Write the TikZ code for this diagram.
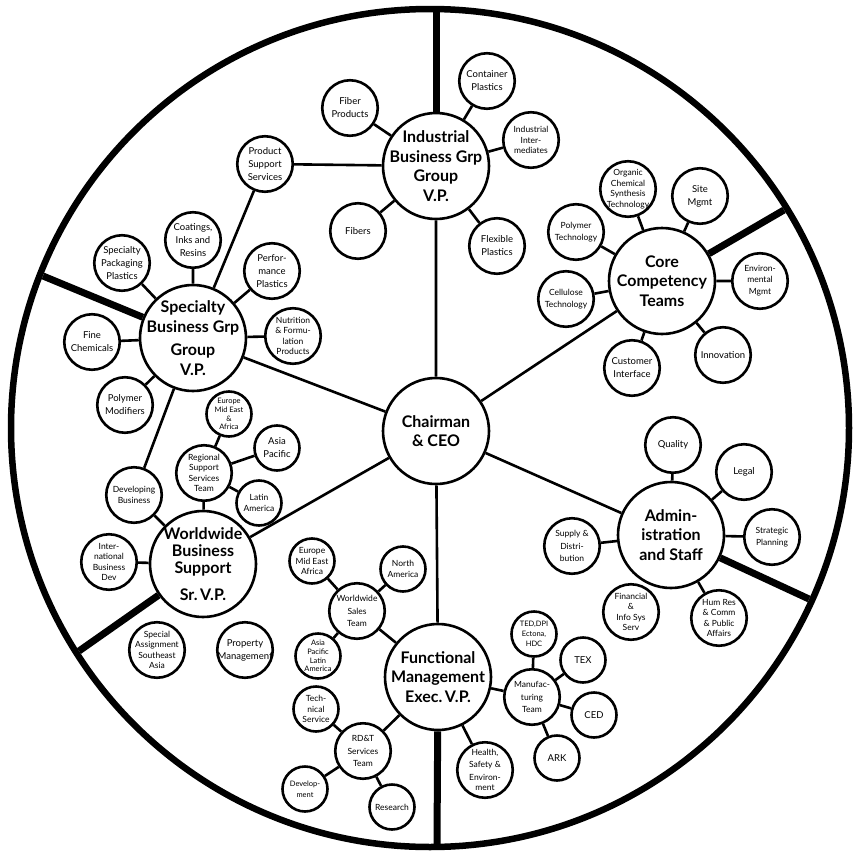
\documentclass[tikz,border=0pt]{standalone}
\usepackage{fontspec}
\setmainfont{Lato}

\begin{document}
\begin{tikzpicture}[x=1pt,y=-1pt,
  bub/.style={circle, draw, line width=2.6pt, minimum size=55.5pt, inner sep=-6pt, align=center, font=\fontsize{9.5}{13}\selectfont},
  sbub/.style={bub, minimum size=45pt},
  fine/.style={font=\fontsize{8.5}{10.5}\selectfont},
  tiny/.style={font=\fontsize{7.5}{8.8}\selectfont},
  head/.style={bub, minimum size=106pt, font=\fontsize{16}{19.5}\selectfont\bfseries},
  link/.style={line width=2.6pt},
  wall/.style={line width=7pt},
  rim/.style={line width=6.5pt}]
  \useasboundingbox (0,0) rectangle (855,854);

  % heads
  \node [head] (chair) at (436,431) {Chairman\\\& CEO};
  \node [head] (indus) at (436,166) {Industrial\\Business Grp\\Group\\V.P.};
  \node [head] (spec)  at (193,338) {Specialty\\Business Grp\\[4pt]Group\\V.P.};
  \node [head, font=\fontsize{16}{17}\selectfont\bfseries] (wwbs) at (203,564) {Worldwide\\Business\\Support\\[10pt]Sr.\,V.P.};
  \node [head] (func)  at (438,677) {Functional\\Management\\Exec.\,V.P.};
  \node [head] (core)  at (662,281) {Core\\Competency\\Teams};
  \node [head] (admin) at (671,535) {Admin-\\istration\\and Staff};

  % industrial
  \node [bub] (fiberprod)   at (350,108) {Fiber\\Products};
  \node [bub] (container)   at (487,81)  {Container\\Plastics};
  \node [bub, fine] (interm) at (531,140) {Industrial\\Inter-\\mediates};
  \node [bub] (fibers)      at (358,231) {Fibers};
  \node [bub] (flexible)    at (497,246) {Flexible\\Plastics};
  \node [bub] (prodsupport) at (265,164) {Product\\Support\\Services};

  % specialty
  \node [bub] (coatings)  at (193,240) {Coatings,\\Inks and\\Resins};
  \node [bub] (specpack)  at (122,263) {Specialty\\Packaging\\Plastics};
  \node [bub] (perform)   at (272,271) {Perfor-\\mance\\Plastics};
  \node [bub] (finechem)  at (92,342)  {Fine\\Chemicals};
  \node [bub, fine] (nutrition) at (293,336) {Nutrition\\\& Formu-\\lation\\Products};
  \node [bub] (polymod)   at (125,405) {Polymer\\Modifiers};
  \node [bub, fine] (devbus) at (134,495) {Developing\\Business};

  % worldwide business support
  \node [bub, fine] (regional) at (204,473) {Regional\\Support\\Services\\Team};
  \node [sbub, tiny] (emeaA) at (229,414) {Europe\\Mid East\\\&\\Africa};
  \node [sbub] (asiapac)  at (277,448) {Asia\\Pacific};
  \node [sbub, fine] (latam) at (259,503) {Latin\\America};
  \node [bub, fine] (intlbus) at (109,562) {Inter-\\national\\Business\\Dev};
  \node [bub, fine] (special) at (157,650) {Special\\Assignment\\Southeast\\Asia};
  \node [bub] (property)  at (245,650) {Property\\Management};

  % functional management
  \node [bub, fine] (wwsales) at (357,611) {Worldwide\\[2pt]Sales\\[2pt]Team};
  \node [sbub, fine] (emeaB) at (312,561) {Europe\\Mid East\\Africa};
  \node [sbub, fine] (northam) at (403,569) {North\\America};
  \node [sbub, tiny] (apla) at (318,656) {Asia\\Pacific\\Latin\\America};
  \node [sbub, fine] (techserv) at (316,709) {Tech-\\nical\\Service};
  \node [bub, fine] (rdt) at (363,751) {RD\&T\\[2pt]Services\\[2pt]Team};
  \node [sbub, tiny] (develop) at (305,789) {Develop-\\[2pt]ment};
  \node [sbub, fine] (research) at (392,807) {Research};
  \node [bub, fine] (health) at (485,770) {Health,\\[2pt]Safety \&\\[2pt]Environ-\\ment};
  \node [bub, fine] (manuf) at (532,697) {Manufac-\\[2pt]turing\\[2pt]Team};
  \node [sbub, tiny] (ted) at (534,634) {TED,DPI\\[1pt]Ectona,\\[1pt]HDC};
  \node [sbub] (tex)     at (583,660) {TEX};
  \node [sbub] (ced)     at (594,715) {CED};
  \node [sbub] (ark)     at (557,758) {ARK};

  % administration
  \node [bub] (quality)   at (673,445) {Quality};
  \node [bub] (legal)     at (744,472) {Legal};
  \node [bub, fine] (strategic) at (772,537) {Strategic\\[2pt]Planning};
  \node [bub, fine] (supply) at (572,546) {Supply \&\\[2pt]Distri-\\[2pt]bution};
  \node [bub, fine] (financial) at (631,612) {Financial\\\&\\Info Sys\\Serv};
  \node [bub, fine] (humres) at (719,618) {Hum Res\\\& Comm\\\& Public\\Affairs};

  % core competency
  \node [bub, fine] (organic)   at (628,189) {Organic\\Chemical\\Synthesis\\Technology};
  \node [bub] (sitemgmt)  at (700,196) {Site\\Mgmt};
  \node [bub, fine] (polytech)  at (576,232) {Polymer\\[2pt]Technology};
  \node [bub, fine] (cellulose) at (566,299) {Cellulose\\[2pt]Technology};
  \node [bub, fine] (envmgmt)   at (760,281) {Environ-\\mental\\[2pt]Mgmt};
  \node [bub] (innovation) at (723,355) {Innovation};
  \node [bub] (customer)   at (632,368) {Customer\\Interface};

  % rim points
  \coordinate (rN)  at (436,12);
  \coordinate (rNE) at (784,210);
  \coordinate (rSE) at (809,599);
  \coordinate (rS)  at (437,844);
  \coordinate (rSW) at (79,651);
  \coordinate (rNW) at (43,276);

  \draw [wall] (indus) -- (rN);
  \draw [wall] (core) -- (rNE);
  \draw [wall] (admin) -- (rSE);
  \draw [wall] (func) -- (rS);
  \draw [wall] (wwbs) -- (rSW);
  \draw [wall] (spec) -- (rNW);
  \draw [rim] (430,428) circle [radius=419pt];

  \draw [link] (chair) -- (indus) (chair) -- (spec) (chair) -- (wwbs)
               (chair) -- (func) (chair) -- (core) (chair) -- (admin);
  \draw [link] (indus) -- (fiberprod) (indus) -- (container) (indus) -- (interm)
               (indus) -- (fibers) (indus) -- (flexible) (indus) -- (prodsupport);
  \draw [link] (spec) -- (prodsupport) (spec) -- (coatings) (spec) -- (specpack)
               (spec) -- (perform) (spec) -- (finechem) (spec) -- (nutrition)
               (spec) -- (polymod) (spec) -- (devbus);
  \draw [link] (wwbs) -- (devbus) (wwbs) -- (regional) (wwbs) -- (intlbus);
  \draw [link] (regional) -- (emeaA) (regional) -- (asiapac) (regional) -- (latam);
  \draw [link] (func) -- (wwsales) (func) -- (rdt) (func) -- (health) (func) -- (manuf);
  \draw [link] (wwsales) -- (emeaB) (wwsales) -- (northam) (wwsales) -- (apla);
  \draw [link] (rdt) -- (techserv) (rdt) -- (develop) (rdt) -- (research);
  \draw [link] (manuf) -- (ted) (manuf) -- (tex) (manuf) -- (ced) (manuf) -- (ark);
  \draw [link] (core) -- (organic) (core) -- (sitemgmt) (core) -- (polytech)
               (core) -- (cellulose) (core) -- (envmgmt) (core) -- (innovation)
               (core) -- (customer);
  \draw [link] (admin) -- (quality) (admin) -- (legal) (admin) -- (strategic)
               (admin) -- (supply) (admin) -- (humres);
\end{tikzpicture}
\end{document}
